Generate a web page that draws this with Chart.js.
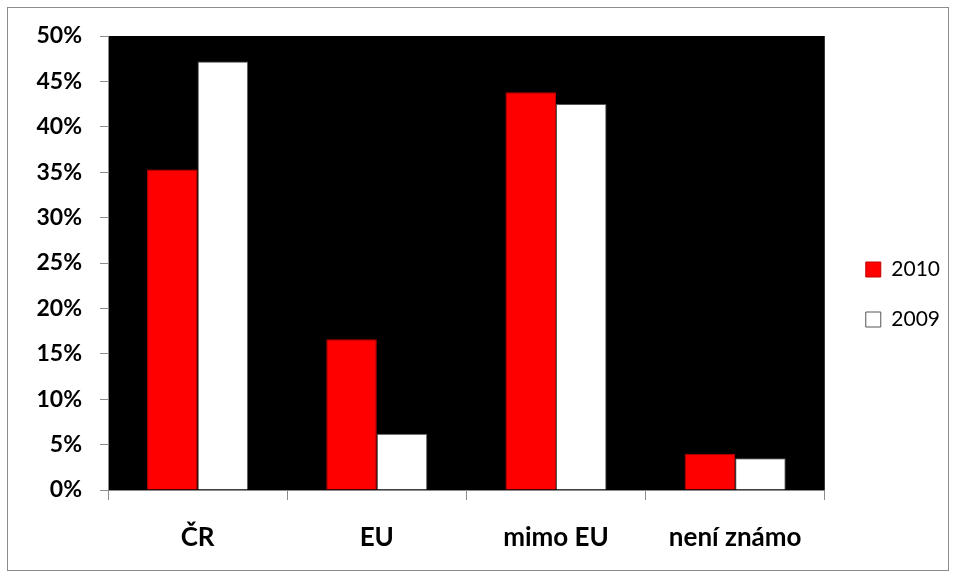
<!DOCTYPE html>
<html>
<head>
<meta charset="utf-8">
<script src="https://cdn.jsdelivr.net/npm/chart.js@4"></script>
<style>
  html, body { margin: 0; padding: 0; background: #fff; overflow: hidden; width: 955px; height: 577px; }
  #frame { position: absolute; left: 7px; top: 7px; width: 940px; height: 562px; border: 1px solid #8c8c8c; }
  #box { position: absolute; left: 0; top: 0; width: 950px; height: 577px; }
</style>
</head>
<body>
<div id="frame"></div>
<div id="box"><canvas id="chart"></canvas></div>
<script>
const categories = ["ČR", "EU", "mimo EU", "není známo"];
const seriesNames = ["2010", "2009"];
const values2010 = [35.3, 16.6, 43.8, 4.0];
const values2009 = [47.2, 6.2, 42.5, 3.5];
const yTicks = [0, 5, 10, 15, 20, 25, 30, 35, 40, 45, 50];

const FONT = "Lato, 'Open Sans', sans-serif";

// black plot background
const plotBg = {
  id: "plotBg",
  beforeDraw(chart) {
    const a = chart.chartArea;
    const ctx = chart.ctx;
    ctx.save();
    ctx.fillStyle = "#000";
    ctx.fillRect(a.left, a.top, a.right - a.left, a.bottom - a.top);
    ctx.restore();
  }
};

new Chart(document.getElementById("chart"), {
  type: "bar",
  data: {
    labels: categories,
    datasets: [
      { label: seriesNames[0], data: values2010, backgroundColor: "#ff0000", borderColor: "#c00000", borderWidth: 1 },
      { label: seriesNames[1], data: values2009, backgroundColor: "#ffffff", borderColor: "#555555", borderWidth: 1 }
    ]
  },
  options: {
    responsive: true,
    maintainAspectRatio: false,
    animation: false,
    layout: { padding: { left: 30, top: 36, right: 0, bottom: 24 } },
    datasets: { bar: { categoryPercentage: 0.564, barPercentage: 1 } },
    plugins: {
      tooltip: { enabled: false },
      legend: {
        position: "right",
        labels: {
          color: "#000",
          font: { family: FONT, size: 21 },
          boxWidth: 15,
          boxHeight: 15,
          padding: 29
        }
      }
    },
    scales: {
      x: {
        grid: { drawOnChartArea: false, tickLength: 10, color: "#8c8c8c" },
        border: { color: "#8c8c8c" },
        ticks: { color: "#000", padding: 22, font: { family: FONT, size: 26, weight: "bold" } },
        afterFit(s) { s.height = 63; }
      },
      y: {
        min: 0,
        max: 50,
        afterBuildTicks(s) { s.ticks = yTicks.map(v => ({ value: v })); },
        grid: { drawOnChartArea: false, tickLength: 8, color: "#8c8c8c" },
        border: { color: "#8c8c8c" },
        ticks: {
          color: "#000",
          padding: 18,
          font: { family: FONT, size: 23, weight: "bold" },
          callback: v => v + "%"
        },
        afterFit(s) { s.width = 78; }
      },
      gap: {
        position: "right",
        type: "linear",
        min: 0,
        max: 1,
        grid: { display: false },
        border: { display: false },
        ticks: { display: false },
        afterFit(s) { s.width = 12; }
      }
    }
  },
  plugins: [plotBg]
});
</script>
</body>
</html>
